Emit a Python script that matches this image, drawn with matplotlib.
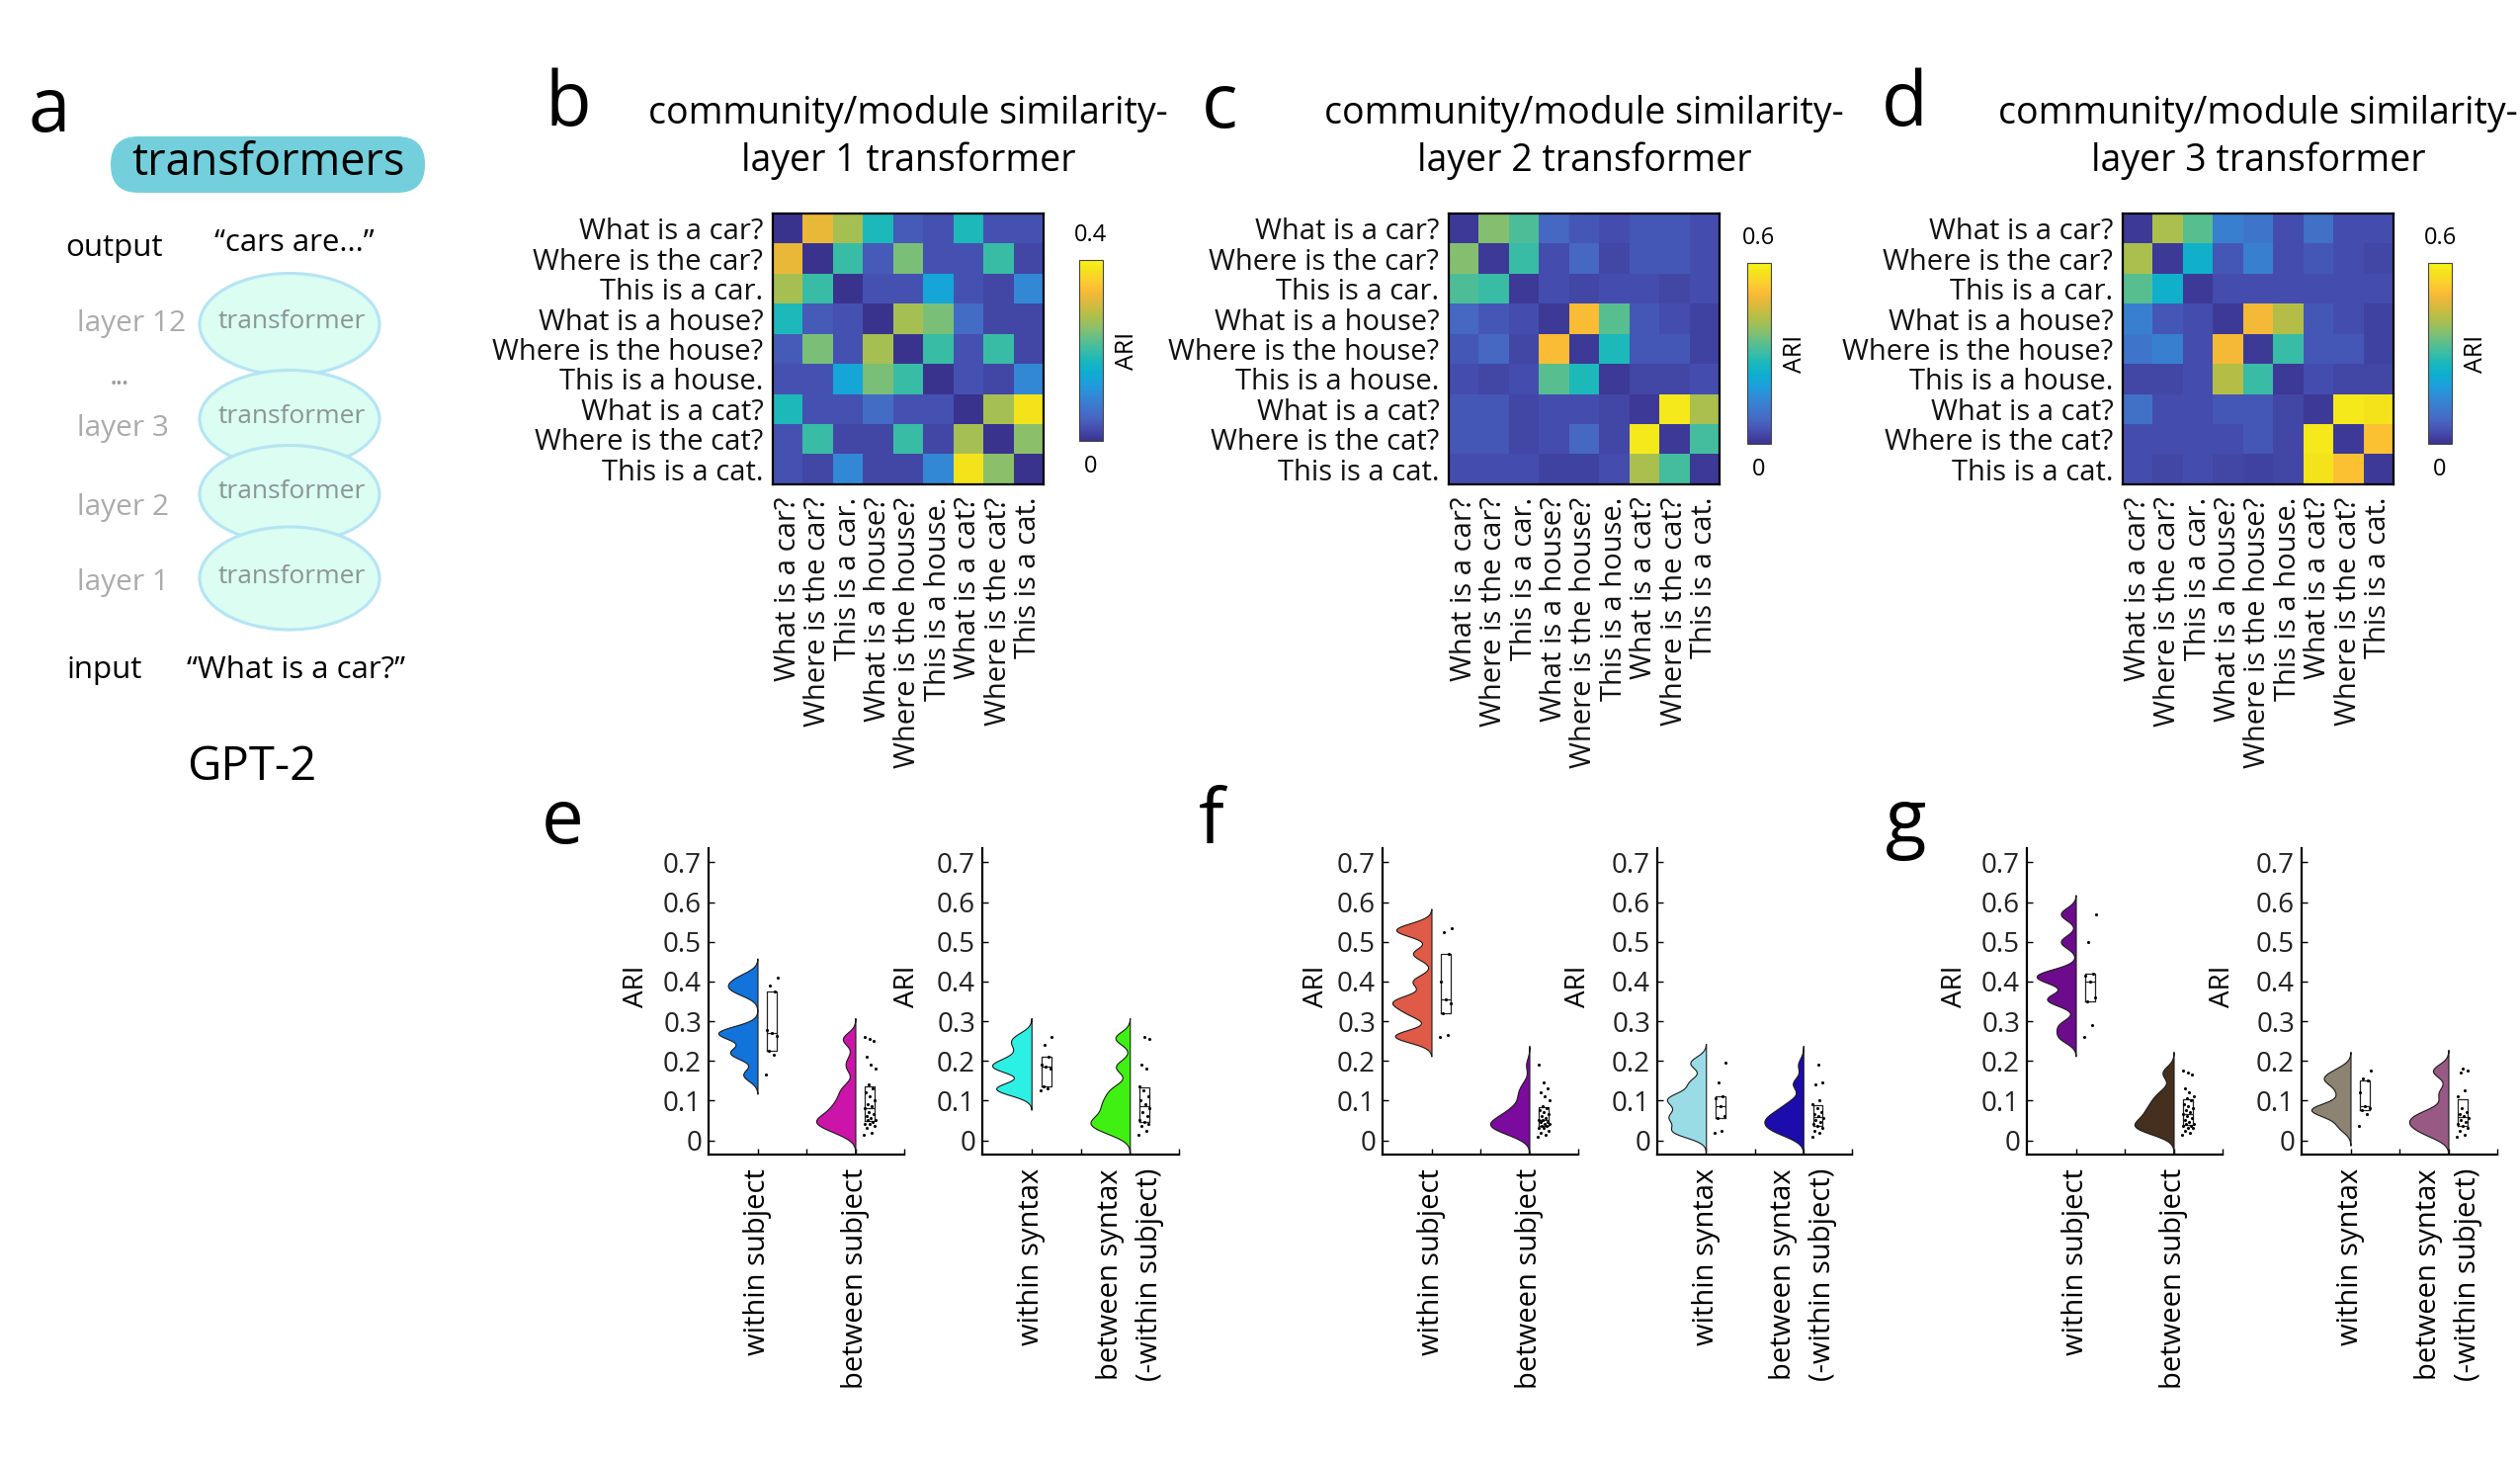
import numpy as np
import matplotlib
matplotlib.use("Agg")
import matplotlib.pyplot as plt
from matplotlib.colors import LinearSegmentedColormap
from matplotlib.patches import Ellipse, FancyBboxPatch
from matplotlib.mlab import GaussianKDE

plt.rcParams["font.family"] = ["Open Sans", "DejaVu Sans"]

W, H = 2550, 1480

sentences = ["What is a car?", "Where is the car?", "This is a car.",
             "What is a house?", "Where is the house?", "This is a house.",
             "What is a cat?", "Where is the cat?", "This is a cat."]

# ARI between sentence networks
layer1_ari = [
    [0.00, 0.32, 0.27, 0.18, 0.04, 0.03, 0.18, 0.03, 0.03],
    [0.32, 0.00, 0.20, 0.04, 0.24, 0.03, 0.03, 0.20, 0.02],
    [0.27, 0.20, 0.00, 0.03, 0.03, 0.14, 0.03, 0.02, 0.10],
    [0.18, 0.04, 0.03, 0.00, 0.27, 0.24, 0.06, 0.02, 0.02],
    [0.04, 0.24, 0.03, 0.27, 0.00, 0.20, 0.03, 0.20, 0.02],
    [0.03, 0.03, 0.14, 0.24, 0.20, 0.00, 0.03, 0.02, 0.10],
    [0.18, 0.03, 0.03, 0.06, 0.03, 0.03, 0.00, 0.27, 0.38],
    [0.03, 0.20, 0.02, 0.02, 0.20, 0.02, 0.27, 0.00, 0.25],
    [0.03, 0.02, 0.10, 0.02, 0.02, 0.10, 0.38, 0.25, 0.00],
]
layer2_ari = [
    [0.01, 0.37, 0.32, 0.08, 0.054, 0.04, 0.054, 0.054, 0.04],
    [0.37, 0.01, 0.30, 0.04, 0.08, 0.03, 0.054, 0.054, 0.04],
    [0.32, 0.30, 0.01, 0.04, 0.03, 0.04, 0.04, 0.03, 0.04],
    [0.08, 0.054, 0.04, 0.01, 0.50, 0.33, 0.054, 0.04, 0.024],
    [0.054, 0.08, 0.03, 0.50, 0.01, 0.27, 0.054, 0.054, 0.024],
    [0.04, 0.03, 0.04, 0.33, 0.27, 0.01, 0.03, 0.03, 0.04],
    [0.054, 0.054, 0.03, 0.04, 0.04, 0.03, 0.01, 0.58, 0.41],
    [0.054, 0.054, 0.03, 0.04, 0.08, 0.03, 0.58, 0.01, 0.31],
    [0.04, 0.04, 0.04, 0.024, 0.024, 0.04, 0.41, 0.31, 0.01],
]
layer3_ari = [
    [0.01, 0.41, 0.33, 0.13, 0.11, 0.04, 0.10, 0.04, 0.04],
    [0.41, 0.01, 0.24, 0.054, 0.13, 0.04, 0.054, 0.04, 0.03],
    [0.33, 0.24, 0.01, 0.04, 0.04, 0.04, 0.04, 0.04, 0.04],
    [0.13, 0.054, 0.04, 0.01, 0.49, 0.42, 0.054, 0.04, 0.024],
    [0.11, 0.13, 0.04, 0.49, 0.01, 0.30, 0.054, 0.054, 0.024],
    [0.03, 0.03, 0.04, 0.42, 0.30, 0.01, 0.04, 0.03, 0.03],
    [0.10, 0.04, 0.04, 0.054, 0.054, 0.03, 0.01, 0.58, 0.57],
    [0.04, 0.04, 0.04, 0.04, 0.054, 0.03, 0.58, 0.01, 0.51],
    [0.04, 0.03, 0.04, 0.03, 0.024, 0.03, 0.57, 0.51, 0.01],
]

# raincloud data (one value per sentence pair)
e_within_subject = [0.165, 0.215, 0.225, 0.262, 0.27, 0.278, 0.375, 0.39, 0.41]
e_between_subject = [0.015, 0.02, 0.03, 0.035, 0.04, 0.04, 0.045, 0.05, 0.05, 0.055,
                     0.06, 0.065, 0.07, 0.08, 0.085, 0.09, 0.10, 0.11, 0.12, 0.13,
                     0.14, 0.18, 0.19, 0.21, 0.25, 0.255, 0.26]
e_within_syntax = [0.125, 0.13, 0.135, 0.18, 0.185, 0.19, 0.21, 0.24, 0.26]
e_between_syntax = [0.015, 0.025, 0.035, 0.04, 0.045, 0.05, 0.06, 0.07, 0.08,
                    0.09, 0.10, 0.11, 0.125, 0.135, 0.18, 0.19, 0.255, 0.26]

f_within_subject = [0.26, 0.265, 0.32, 0.345, 0.355, 0.40, 0.47, 0.525, 0.535]
f_between_subject = [0.01, 0.015, 0.02, 0.025, 0.03, 0.03, 0.035, 0.035, 0.04, 0.04,
                     0.045, 0.045, 0.05, 0.05, 0.055, 0.06, 0.065, 0.07, 0.075, 0.08,
                     0.085, 0.10, 0.11, 0.12, 0.13, 0.145, 0.19]
f_within_syntax = [0.02, 0.025, 0.055, 0.06, 0.085, 0.105, 0.11, 0.145, 0.195]
f_between_syntax = [0.01, 0.02, 0.025, 0.03, 0.035, 0.04, 0.045, 0.05, 0.055,
                    0.06, 0.065, 0.07, 0.08, 0.09, 0.10, 0.14, 0.145, 0.19]

g_within_subject = [0.26, 0.29, 0.35, 0.36, 0.40, 0.415, 0.42, 0.50, 0.57]
g_between_subject = [0.015, 0.02, 0.025, 0.03, 0.03, 0.035, 0.035, 0.04, 0.04, 0.045,
                     0.05, 0.055, 0.06, 0.065, 0.07, 0.075, 0.08, 0.085, 0.09, 0.10,
                     0.105, 0.11, 0.12, 0.13, 0.165, 0.17, 0.175]
g_within_syntax = [0.035, 0.065, 0.075, 0.08, 0.085, 0.12, 0.15, 0.155, 0.175]
g_between_syntax = [0.01, 0.015, 0.025, 0.03, 0.035, 0.04, 0.045, 0.05, 0.055,
                    0.06, 0.065, 0.07, 0.08, 0.11, 0.125, 0.17, 0.175, 0.18]

subject_labels = ["within subject", "", "between subject", ""]
syntax_labels = ["within syntax", "", "between syntax\n(-within subject)", ""]
ari_ticks = [0, 0.1, 0.2, 0.3, 0.4, 0.5, 0.6, 0.7]

# parula-like map, slightly muted in the blues as in the printed figure
parula = LinearSegmentedColormap.from_list("parula_like", [
    (0.000, (0.23, 0.20, 0.56)), (0.063, (0.27, 0.30, 0.68)),
    (0.127, (0.28, 0.40, 0.76)), (0.190, (0.24, 0.47, 0.80)),
    (0.254, (0.20, 0.54, 0.84)), (0.317, (0.12, 0.62, 0.86)),
    (0.381, (0.05, 0.68, 0.82)), (0.444, (0.10, 0.72, 0.74)),
    (0.508, (0.24, 0.74, 0.64)), (0.571, (0.40, 0.75, 0.53)),
    (0.635, (0.57, 0.75, 0.40)), (0.698, (0.70, 0.75, 0.28)),
    (0.762, (0.85, 0.73, 0.24)), (0.810, (0.94, 0.72, 0.22)),
    (0.840, (0.99, 0.74, 0.21)), (0.890, (0.99, 0.81, 0.18)),
    (0.950, (0.96, 0.89, 0.11)), (1.000, (0.97, 0.95, 0.10)),
])

fig = plt.figure(figsize=(25.5, 14.8), dpi=100)


def px_axes(left, right, top, bottom):
    return fig.add_axes([left / W, 1 - bottom / H, (right - left) / W, (bottom - top) / H])


# overlay in pixel coordinates for panel a, letters and titles
ov = fig.add_axes([0, 0, 1, 1])
ov.set_xlim(0, W)
ov.set_ylim(H, 0)
ov.axis("off")

LETTER = 55

# ---- panel a ----
ov.text(28, 133, "a", fontsize=LETTER, va="baseline")
ov.add_patch(FancyBboxPatch((112, 138), 318, 57, boxstyle="round,pad=0,rounding_size=28",
                            fc="#74CFDC", ec="none"))
ov.text(271, 165, "transformers", fontsize=32.5, ha="center", va="center")
ov.text(66, 251, "output", fontsize=22.5, va="center")
ov.text(217, 246, "\u201ccars are...\u201d", fontsize=22.5, va="center")
ell_y = [328, 424, 500, 585]
ell_h = [103, 99, 99, 104]
for i, (cy, hh) in enumerate(zip(ell_y, ell_h)):
    ov.add_patch(Ellipse((293, cy), 182, hh, fc="#DBFDF2", ec="#B5E4F4", lw=2.2, zorder=2 + i))
    ov.text(295, cy - 2, "transformer", fontsize=19, color="#8A9694", ha="center",
            va="center", zorder=2 + i)
for lab, y in zip(["layer 12", "layer 3", "layer 2", "layer 1"], [327, 433, 513, 590]):
    ov.text(78, y, lab, fontsize=21.5, color="#ABABAB", va="center")
ov.text(121, 389, "\u2022\u2022\u2022", fontsize=12, color="#999999", ha="center", va="center")
ov.text(67, 678, "input", fontsize=22.5, va="center")
ov.text(189, 678, "\u201cWhat is a car?\u201d", fontsize=22.5, va="center")
ov.text(189, 776, "GPT-2", fontsize=34, va="center")


# ---- heatmaps b-d ----
def heatmap(rect, crect, values, vmax, letter, lpos, layer):
    ax = px_axes(*rect)
    im = ax.imshow(np.array(values), cmap=parula, vmin=0, vmax=vmax,
                   aspect="auto", interpolation="nearest")
    ax.set_xticks(range(9))
    ax.set_yticks(range(9))
    ax.set_xticklabels(sentences, rotation=90, fontsize=21)
    ax.set_yticklabels(sentences, fontsize=21)
    ax.tick_params(length=0, colors="#111111")
    ax.tick_params(axis="x", pad=9)
    ax.tick_params(axis="y", pad=7)
    for s in ax.spines.values():
        s.set_linewidth(1.6)
    cax = px_axes(*crect)
    cb = fig.colorbar(im, cax=cax, ticks=[])
    cb.outline.set_linewidth(0.8)
    cb.outline.set_edgecolor("#444444")
    cax.text(0.5, 1.07, f"{vmax:g}", transform=cax.transAxes, ha="center", va="bottom", fontsize=17)
    cax.text(0.5, -0.075, "0", transform=cax.transAxes, ha="center", va="top", fontsize=17)
    cax.text(2.03, 0.5, "ARI", transform=cax.transAxes, rotation=90, ha="center",
             va="center", fontsize=18)
    cx = (rect[0] + rect[1]) / 2
    ov.text(cx, 115, "community/module similarity-", fontsize=27, ha="center", va="center")
    ov.text(cx, 163, layer, fontsize=27, ha="center", va="center")
    ov.text(lpos[0], lpos[1], letter, fontsize=LETTER, va="baseline")


heatmap((782, 1056, 216, 490), (1092, 1116, 263, 446), layer1_ari, 0.4, "b", (551, 127), "layer 1 transformer")
heatmap((1466, 1740, 216, 490), (1768, 1792, 266, 449), layer2_ari, 0.6, "c", (1216, 129), "layer 2 transformer")
heatmap((2148, 2422, 216, 490), (2457, 2481, 266, 449), layer3_ari, 0.6, "d", (1904, 127), "layer 3 transformer")


# ---- rainclouds e-g ----
BW = 0.016


def raincloud(left, right, series, colors, labels, ylab_x):
    ax = px_axes(left, right, 858, 1168)
    for k, (vals, col) in enumerate(zip(series, colors)):
        pos = 1 + 2 * k
        d = np.asarray(vals)
        kde = GaussianKDE(d, bw_method=BW / d.std(ddof=1))
        y = np.linspace(d.min() - 3 * BW, d.max() + 3 * BW, 300)
        dens = kde.evaluate(y)
        ax.fill_betweenx(y, pos - 0.8 * dens / dens.max(), pos, facecolor=col,
                         edgecolor="#1a1a1a", lw=0.8, zorder=2)
        ax.boxplot(d, positions=[pos + 0.3], widths=0.2, whis=0, showcaps=False,
                   showfliers=False, manage_ticks=False,
                   boxprops=dict(color="#222222", lw=0.9),
                   whiskerprops=dict(lw=0), medianprops=dict(color="#222222", lw=0.9))
        jit = ((np.arange(len(d)) * 0.618) % 1 - 0.5) * 0.24
        ax.scatter(pos + 0.3 + jit, d, s=5, c="k", zorder=3, lw=0)
    ax.set_xlim(0, 4)
    ax.set_ylim(-0.036, 0.736)
    ax.set_xticks([1, 2, 3, 4])
    ax.set_xticklabels(labels, rotation=90, fontsize=21, linespacing=1.5)
    ax.set_yticks(ari_ticks)
    ax.set_yticklabels([f"{v:g}" for v in ari_ticks], fontsize=20, color="#222222")
    ax.tick_params(direction="in", length=4, width=1, pad=5)
    ax.tick_params(axis="x", pad=10)
    for s in ["top", "right"]:
        ax.spines[s].set_visible(False)
    for s in ["left", "bottom"]:
        ax.spines[s].set_linewidth(1.6)
    ax.set_ylabel("ARI", fontsize=20)
    ax.yaxis.set_label_coords(ylab_x, 0.55)
    return ax


raincloud(717, 915, [e_within_subject, e_between_subject], ["#1273DA", "#CC15A8"], subject_labels, -0.30)
raincloud(994, 1193, [e_within_syntax, e_between_syntax], ["#2CF0E4", "#40F012"], syntax_labels, -0.31)
raincloud(1399, 1597, [f_within_subject, f_between_subject], ["#E05A48", "#7A0B9C"], subject_labels, -0.27)
raincloud(1677, 1874, [f_within_syntax, f_between_syntax], ["#9ADCE5", "#1C0CAB"], syntax_labels, -0.335)
raincloud(2051, 2249, [g_within_subject, g_between_subject], ["#6C0C8C", "#45301F"], subject_labels, -0.30)
raincloud(2329, 2527, [g_within_syntax, g_between_syntax], ["#8C8372", "#985A84"], syntax_labels, -0.335)

ov.text(548, 853, "e", fontsize=LETTER, va="baseline")
ov.text(1213, 853, "f", fontsize=LETTER, va="baseline")
ov.text(1908, 853, "g", fontsize=LETTER, va="baseline")

fig.savefig("out.png", dpi=100)
